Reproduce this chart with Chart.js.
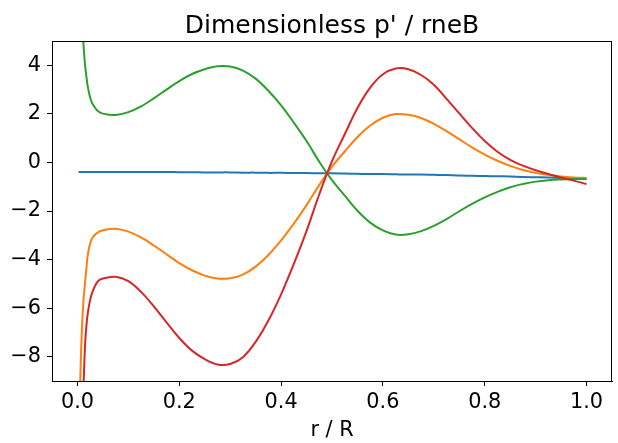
<!DOCTYPE html>
<html>
<head>
<meta charset="utf-8">
<script src="https://cdn.jsdelivr.net/npm/chart.js@4.4.1/dist/chart.umd.min.js"></script>
<style>
	body { margin: 0; background: #fff; }
	canvas { display: block; }
</style>
</head>
<body>
<canvas id="chart" width="618" height="443"></canvas>
<script>
const radius = [0.002, 0.004, 0.006, 0.008, 0.01, 0.0125, 0.015, 0.0175, 0.02, 0.025,
	0.03, 0.04, 0.05, 0.075, 0.1, 0.125, 0.15, 0.175, 0.2, 0.225,
	0.25, 0.275, 0.3, 0.325, 0.35, 0.375, 0.4, 0.425, 0.45, 0.475,
	0.5, 0.525, 0.55, 0.575, 0.6, 0.625, 0.65, 0.675, 0.7, 0.725,
	0.75, 0.775, 0.8, 0.825, 0.85, 0.875, 0.9, 0.925, 0.95, 0.975, 1.0];

const blue = [-0.39, -0.39, -0.39, -0.39, -0.39, -0.39, -0.39, -0.39, -0.39, -0.39,
	-0.39, -0.39, -0.39, -0.39, -0.39, -0.39, -0.39, -0.39, -0.40, -0.40,
	-0.41, -0.41, -0.41, -0.42, -0.42, -0.43, -0.43, -0.44, -0.44, -0.45,
	-0.45, -0.46, -0.47, -0.48, -0.48, -0.49, -0.50, -0.50, -0.51, -0.52,
	-0.54, -0.55, -0.56, -0.57, -0.58, -0.60, -0.61, -0.62, -0.64, -0.65, -0.66];

const orange = [-20, -11, -8.6, -7.3, -6.3, -5.5, -4.92, -4.38, -3.85, -3.33,
	-3.08, -2.88, -2.79, -2.73, -2.85, -3.09, -3.42, -3.78, -4.15, -4.44,
	-4.66, -4.78, -4.77, -4.62, -4.29, -3.81, -3.21, -2.52, -1.76, -0.93,
	-0.17, 0.45, 1.05, 1.52, 1.84, 1.99, 1.96, 1.83, 1.59, 1.29,
	0.96, 0.62, 0.32, 0.07, -0.14, -0.31, -0.43, -0.51, -0.58, -0.62, -0.64];

const green = [30, 14, 9.2, 7.0, 5.6, 4.65, 4.0, 3.55, 3.15, 2.66,
	2.4, 2.12, 2.01, 1.95, 2.07, 2.31, 2.64, 3.0, 3.35, 3.64,
	3.84, 3.96, 3.95, 3.78, 3.45, 2.95, 2.35, 1.64, 0.88, 0.03,
	-0.73, -1.37, -1.99, -2.48, -2.8, -2.97, -2.96, -2.83, -2.61, -2.33,
	-2.01, -1.71, -1.44, -1.21, -1.02, -0.89, -0.79, -0.73, -0.7, -0.68, -0.68];

const red = [-40, -25, -17, -13, -10.6, -8.85, -7.5, -6.75, -6.25, -5.65,
	-5.3, -4.9, -4.78, -4.71, -4.89, -5.33, -5.93, -6.59, -7.23, -7.75,
	-8.1, -8.32, -8.3, -8.02, -7.39, -6.51, -5.43, -4.18, -2.82, -1.31,
	0.05, 1.16, 2.24, 3.08, 3.63, 3.87, 3.84, 3.6, 3.2, 2.62,
	2.02, 1.42, 0.88, 0.44, 0.11, -0.13, -0.32, -0.48, -0.62, -0.75, -0.89];

const xTicks = [0.0, 0.2, 0.4, 0.6, 0.8, 1.0];
const yTicks = [-8, -6, -4, -2, 0, 2, 4];
const titleText = "Dimensionless p' / rneB";

const FONT = "'DejaVu Sans', sans-serif";
const minus = s => s.replace("-", "\u2212");

const series = (values, color, order) => ({
	data: radius.map((r, i) => ({ x: r, y: values[i] })),
	borderColor: color,
	borderWidth: 2,
	pointRadius: 0,
	tension: 0.35,
	clip: 0,
	order: order,
});

// box round the axes, and the title centred over the axes (not the canvas)
const frame = {
	id: "frame",
	afterDraw(chart) {
		const { ctx, chartArea: a } = chart;
		ctx.save();
		ctx.strokeStyle = "#000";
		ctx.lineWidth = 1;
		ctx.strokeRect(a.left + 0.5, a.top + 0.5, a.right - a.left - 1, a.bottom - a.top);
		ctx.fillStyle = "#000";
		ctx.font = "25px " + FONT;
		ctx.textAlign = "center";
		ctx.textBaseline = "alphabetic";
		ctx.fillText(titleText, (a.left + a.right) / 2, a.top - 8);
		ctx.restore();
	},
};

new Chart(document.getElementById("chart"), {
	type: "line",
	plugins: [frame],
	data: {
		datasets: [
			series(blue, "#1f77b4", 4),
			series(orange, "#ff7f0e", 3),
			series(green, "#2ca02c", 2),
			series(red, "#d62728", 1),
		],
	},
	options: {
		responsive: false,
		animation: false,
		layout: { padding: { left: 0, right: 6, top: 41, bottom: 0 } },
		plugins: {
			legend: { display: false },
			tooltip: { enabled: false },
			title: { display: false },
		},
		scales: {
			x: {
				type: "linear",
				min: -0.05,
				max: 1.05,
				afterBuildTicks: s => { s.ticks = xTicks.map(v => ({ value: v })); },
				afterFit: s => { s.height = 62; },
				grid: { drawOnChartArea: false, drawTicks: true, tickLength: 5, tickColor: "#000" },
				border: { display: true, color: "#000", width: 1 },
				ticks: {
					color: "#000",
					padding: 4,
					maxRotation: 0,
					font: { family: FONT, size: 20.8 },
					callback: v => minus(v.toFixed(1)),
				},
				title: {
					display: true,
					text: "r / R",
					color: "#000",
					font: { family: FONT, size: 20.8 },
					padding: { top: 0, bottom: 0 },
				},
			},
			y: {
				type: "linear",
				min: -9,
				max: 5,
				afterBuildTicks: s => { s.ticks = yTicks.map(v => ({ value: v })); },
				afterFit: s => { s.width = 52; },
				grid: { drawOnChartArea: false, drawTicks: true, tickLength: 5, tickColor: "#000" },
				border: { display: true, color: "#000", width: 1 },
				ticks: {
					color: "#000",
					padding: 6,
					font: { family: FONT, size: 20.8 },
					callback: v => minus(String(v)),
				},
			},
		},
	},
});
</script>
</body>
</html>
